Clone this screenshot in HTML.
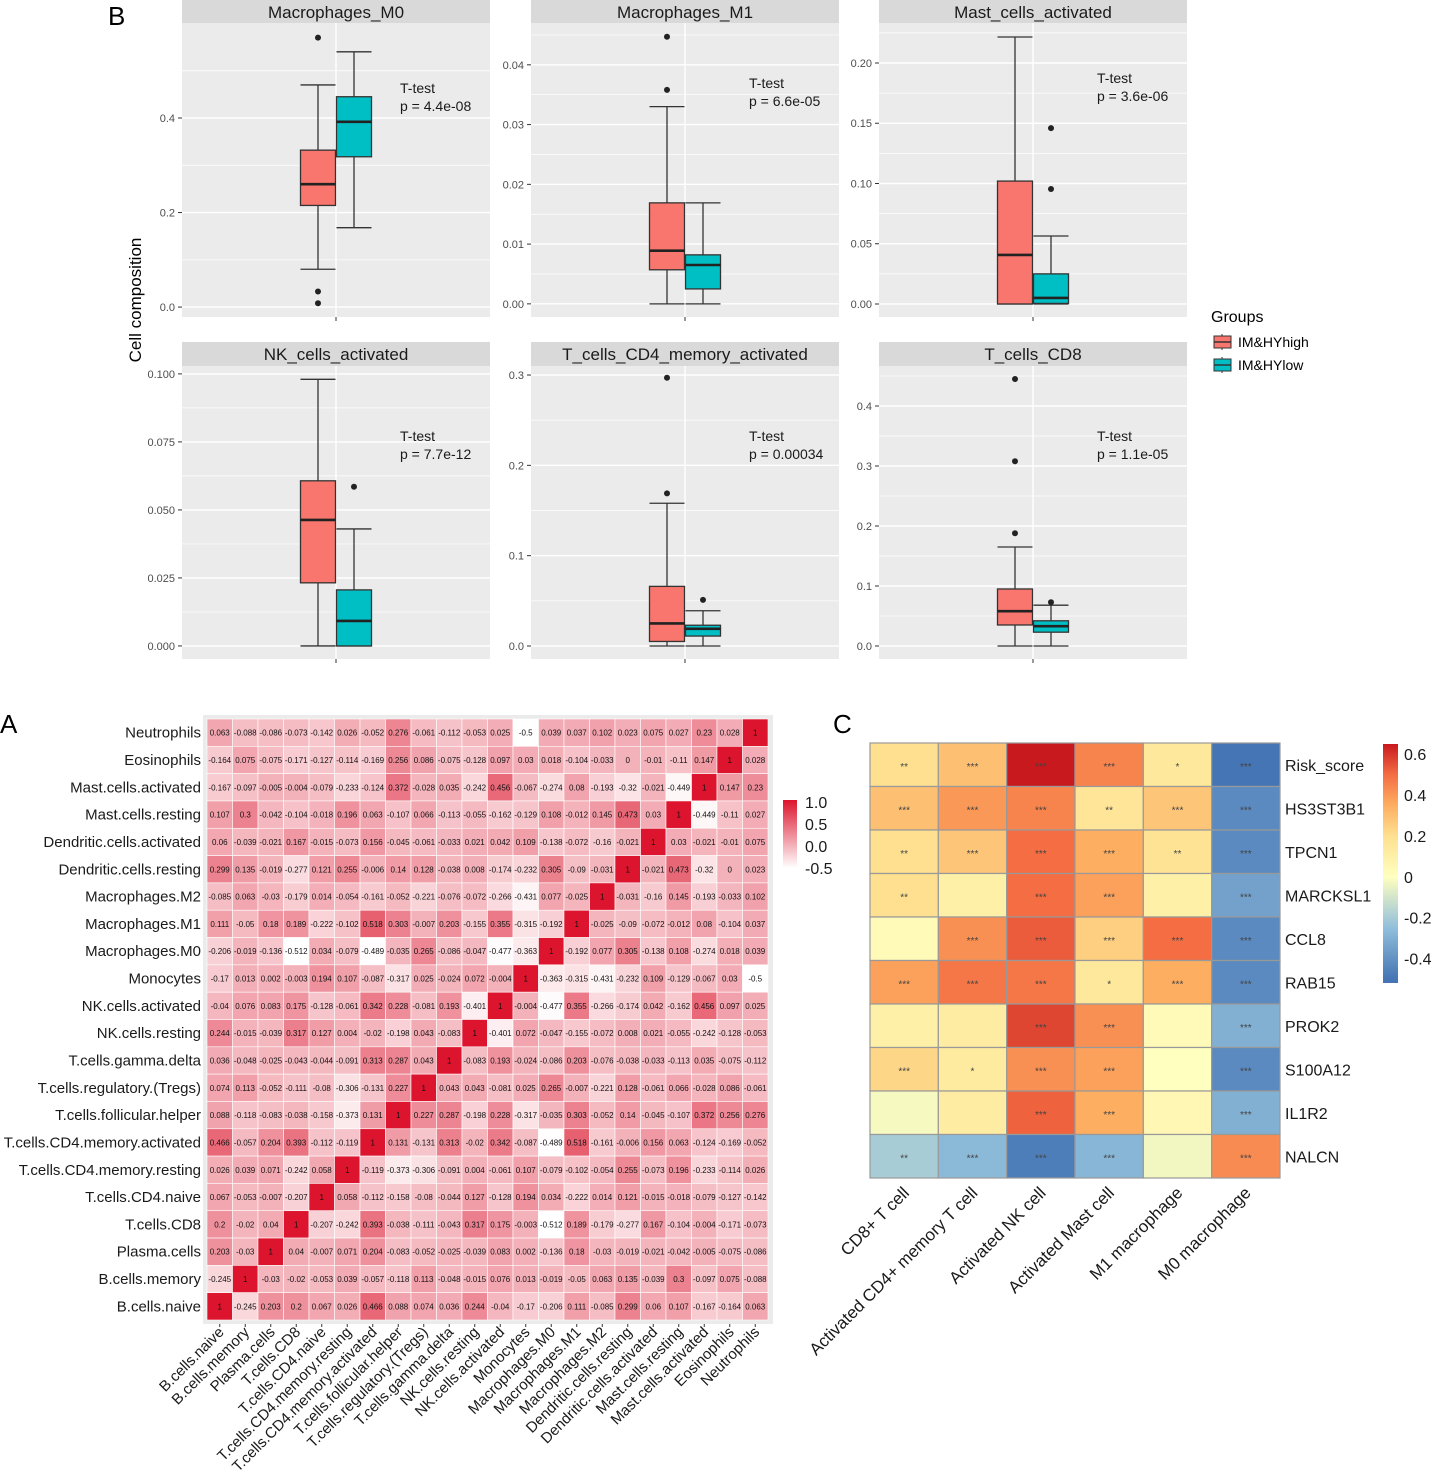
<!DOCTYPE html>
<html><head><meta charset="utf-8">
<style>
body{margin:0;background:#fff;}
svg{display:block;font-family:"Liberation Sans",Arial,sans-serif;}
</style></head>
<body>
<svg id="fig" width="1435" height="1475" viewBox="0 0 1435 1475" xmlns="http://www.w3.org/2000/svg">
<text x="108" y="25" font-size="26">B</text>
<text x="0" y="733" font-size="26">A</text>
<text x="833" y="733" font-size="26">C</text>
<text transform="translate(141,300) rotate(-90)" text-anchor="middle" font-size="17">Cell composition</text>
<g id="gB"></g>
<g>
<text x="1211" y="322" font-size="16">Groups</text>
<g>
<line x1="1222" y1="334" x2="1222" y2="350" stroke="#333"/><rect x="1214" y="336" width="17" height="12" fill="#f8766d" stroke="#333"/><line x1="1214" y1="342" x2="1231" y2="342" stroke="#333" stroke-width="1.5"/>
<text x="1238" y="347" font-size="14">IM&amp;HYhigh</text></g>
<g>
<line x1="1222" y1="357" x2="1222" y2="373" stroke="#333"/><rect x="1214" y="359" width="17" height="12" fill="#00bfc4" stroke="#333"/><line x1="1214" y1="365" x2="1231" y2="365" stroke="#333" stroke-width="1.5"/>
<text x="1238" y="370" font-size="14">IM&amp;HYlow</text></g>
</g>
<g id="gA"></g>
<g id="gC"></g>
</svg>
<script>
// ---------- Panel B data ----------
const boxTitles = ["Macrophages_M0","Macrophages_M1","Mast_cells_activated","NK_cells_activated","T_cells_CD4_memory_activated","T_cells_CD8"];
const pValues = ["p = 4.4e-08","p = 6.6e-05","p = 3.6e-06","p = 7.7e-12","p = 0.00034","p = 1.1e-05"];
// [lowWhisker, q1, median, q3, highWhisker]
const highStats = [[0.08,0.215,0.26,0.332,0.47],[0,0.0057,0.0089,0.0169,0.033],[0,0,0.0407,0.102,0.2216],[0,0.0232,0.0463,0.0607,0.098],[0,0.005,0.025,0.066,0.158],[0,0.035,0.058,0.095,0.165]];
const lowStats = [[0.168,0.318,0.392,0.445,0.54],[0,0.0025,0.0065,0.0082,0.0169],[0,0.0005,0.005,0.025,0.0564],[0,0,0.0092,0.0206,0.043],[0,0.011,0.019,0.023,0.039],[0,0.023,0.033,0.042,0.068]];
const highOutliers = [[0.57,0.033,0.008],[0.0358,0.0447],[],[],[0.169,0.297],[0.188,0.308,0.445]];
const lowOutliers = [[],[],[0.0954,0.146],[0.0585],[0.051],[0.073]];
const yTicks = [[0,0.2,0.4],[0,0.01,0.02,0.03,0.04],[0,0.05,0.1,0.15,0.2],[0,0.025,0.05,0.075,0.1],[0,0.1,0.2,0.3],[0,0.1,0.2,0.3,0.4]];
const yTickLabels = [["0.0","0.2","0.4"],["0.00","0.01","0.02","0.03","0.04"],["0.00","0.05","0.10","0.15","0.20"],["0.000","0.025","0.050","0.075","0.100"],["0.0","0.1","0.2","0.3"],["0.0","0.1","0.2","0.3","0.4"]];
const yDomains = [[-0.021,0.601],[-0.0022,0.047],[-0.0108,0.2332],[-0.0048,0.1029],[-0.0144,0.310],[-0.0217,0.4667]];

// ---------- Panel A data ----------
const cellTypes = ["B.cells.naive","B.cells.memory","Plasma.cells","T.cells.CD8","T.cells.CD4.naive","T.cells.CD4.memory.resting","T.cells.CD4.memory.activated","T.cells.follicular.helper","T.cells.regulatory.(Tregs)","T.cells.gamma.delta","NK.cells.resting","NK.cells.activated","Monocytes","Macrophages.M0","Macrophages.M1","Macrophages.M2","Dendritic.cells.resting","Dendritic.cells.activated","Mast.cells.resting","Mast.cells.activated","Eosinophils","Neutrophils"];
const lowerTri = [
[],
[-0.245],
[0.203,-0.03],
[0.2,-0.02,0.04],
[0.067,-0.053,-0.007,-0.207],
[0.026,0.039,0.071,-0.242,0.058],
[0.466,-0.057,0.204,0.393,-0.112,-0.119],
[0.088,-0.118,-0.083,-0.038,-0.158,-0.373,0.131],
[0.074,0.113,-0.052,-0.111,-0.08,-0.306,-0.131,0.227],
[0.036,-0.048,-0.025,-0.043,-0.044,-0.091,0.313,0.287,0.043],
[0.244,-0.015,-0.039,0.317,0.127,0.004,-0.02,-0.198,0.043,-0.083],
[-0.04,0.076,0.083,0.175,-0.128,-0.061,0.342,0.228,-0.081,0.193,-0.401],
[-0.17,0.013,0.002,-0.003,0.194,0.107,-0.087,-0.317,0.025,-0.024,0.072,-0.004],
[-0.206,-0.019,-0.136,-0.512,0.034,-0.079,-0.489,-0.035,0.265,-0.086,-0.047,-0.477,-0.363],
[0.111,-0.05,0.18,0.189,-0.222,-0.102,0.518,0.303,-0.007,0.203,-0.155,0.355,-0.315,-0.192],
[-0.085,0.063,-0.03,-0.179,0.014,-0.054,-0.161,-0.052,-0.221,-0.076,-0.072,-0.266,-0.431,0.077,-0.025],
[0.299,0.135,-0.019,-0.277,0.121,0.255,-0.006,0.14,0.128,-0.038,0.008,-0.174,-0.232,0.305,-0.09,-0.031],
[0.06,-0.039,-0.021,0.167,-0.015,-0.073,0.156,-0.045,-0.061,-0.033,0.021,0.042,0.109,-0.138,-0.072,-0.16,-0.021],
[0.107,0.3,-0.042,-0.104,-0.018,0.196,0.063,-0.107,0.066,-0.113,-0.055,-0.162,-0.129,0.108,-0.012,0.145,0.473,0.03],
[-0.167,-0.097,-0.005,-0.004,-0.079,-0.233,-0.124,0.372,-0.028,0.035,-0.242,0.456,-0.067,-0.274,0.08,-0.193,-0.32,-0.021,-0.449],
[-0.164,0.075,-0.075,-0.171,-0.127,-0.114,-0.169,0.256,0.086,-0.075,-0.128,0.097,0.03,0.018,-0.104,-0.033,0,-0.01,-0.11,0.147],
[0.063,-0.088,-0.086,-0.073,-0.142,0.026,-0.052,0.276,-0.061,-0.112,-0.053,0.025,-0.5,0.039,0.037,0.102,0.023,0.075,0.027,0.23,0.028]
];
const corrLegendTicks = [1.0,0.5,0.0,-0.5];
const corrLegendLabels = ["1.0","0.5","0.0","-0.5"];

// ---------- Panel C data ----------
const genes = ["Risk_score","HS3ST3B1","TPCN1","MARCKSL1","CCL8","RAB15","PROK2","S100A12","IL1R2","NALCN"];
const immuneCells = ["CD8+ T cell","Activated CD4+ memory T cell","Activated NK cell","Activated Mast cell","M1 macrophage","M0 macrophage"];
const geneCorr = [
[0.2,0.3,0.65,0.45,0.15,-0.5],
[0.3,0.4,0.45,0.17,0.28,-0.43],
[0.2,0.28,0.5,0.35,0.18,-0.43],
[0.2,0.1,0.5,0.38,0.1,-0.35],
[0.03,0.42,0.53,0.25,0.5,-0.43],
[0.38,0.48,0.48,0.15,0.35,-0.43],
[0.1,0.12,0.57,0.42,0.03,-0.3],
[0.23,0.13,0.42,0.38,0.0,-0.43],
[-0.02,0.12,0.52,0.35,0.05,-0.3],
[-0.2,-0.27,-0.47,-0.28,-0.03,0.43]
];
const geneStars = [
["**","***","***","***","*","***"],
["***","***","***","**","***","***"],
["**","***","***","***","**","***"],
["**","","***","***","","***"],
["","***","***","***","***","***"],
["***","***","***","*","***","***"],
["","","***","***","","***"],
["***","*","***","***","","***"],
["","","***","***","","***"],
["**","***","***","***","","***"]
];
const geneLegendTicks = [0.6,0.4,0.2,0,-0.2,-0.4];
const geneLegendLabels = ["0.6","0.4","0.2","0","-0.2","-0.4"];

const NS="http://www.w3.org/2000/svg";
function mk(parent,tag,attrs,txt){const e=document.createElementNS(NS,tag);for(const k in attrs)e.setAttribute(k,attrs[k]);if(txt!==undefined)e.textContent=txt;parent.appendChild(e);return e;}

// ---------- Draw Panel B ----------
(function(){
  const g=document.getElementById('gB');
  const lefts=[182,531,879], rowsY=[[0,23,317],[342,366,659]], W=308;
  boxTitles.forEach((title,i)=>{
    const col=i%3,row=Math.floor(i/3);
    const L=lefts[col],st=rowsY[row][0],T=rowsY[row][1],B=rowsY[row][2];
    const cx=L+W/2;
    const [d0,d1]=yDomains[i];
    const y=v=>B-(v-d0)/(d1-d0)*(B-T);
    const pg=mk(g,'g',{});
    
    
    mk(pg,'rect',{x:L,y:T,width:W,height:B-T,fill:'#ebebeb'});
    const strip=mk(pg,'rect',{x:L,y:st,width:W,height:T-st,fill:'#d9d9d9'});
    
    
    const stt=mk(pg,'text',{x:cx,y:st+18,'text-anchor':'middle','font-size':17,fill:'#1a1a1a'},title);
    
    
    const tk=yTicks[i];
    const step=tk[1]-tk[0];
    for(let m=tk[0]-step/2;m<=d1;m+=step){ if(m>=d0) mk(pg,'line',{x1:L,x2:L+W,y1:y(m),y2:y(m),stroke:'#fff','stroke-width':0.7});}
    tk.forEach((v,k)=>{
      mk(pg,'line',{x1:L,x2:L+W,y1:y(v),y2:y(v),stroke:'#fff','stroke-width':1.4});
      mk(pg,'line',{x1:L-4,x2:L,y1:y(v),y2:y(v),stroke:'#333','stroke-width':1});
      const tl=mk(pg,'text',{x:L-7,y:y(v)+4,'text-anchor':'end','font-size':11,fill:'#4d4d4d'},yTickLabels[i][k]);
      
      
    });
    mk(pg,'line',{x1:cx,x2:cx,y1:T,y2:B,stroke:'#fff','stroke-width':1.4});
    mk(pg,'line',{x1:cx,x2:cx,y1:B,y2:B+4,stroke:'#333'});
    const bw=35;
    [[highStats[i],highOutliers[i],cx-18,'#f8766d','high'],[lowStats[i],lowOutliers[i],cx+18,'#00bfc4','low']].forEach(([s,outs,bx,fill,nm])=>{
      const bg=mk(pg,'g',{});
      
      
      mk(bg,'line',{x1:bx,x2:bx,y1:y(s[0]),y2:y(s[4]),stroke:'#333','stroke-width':1.3});
      mk(bg,'line',{x1:bx-bw/2,x2:bx+bw/2,y1:y(s[0]),y2:y(s[0]),stroke:'#333','stroke-width':1.3});
      mk(bg,'line',{x1:bx-bw/2,x2:bx+bw/2,y1:y(s[4]),y2:y(s[4]),stroke:'#333','stroke-width':1.3});
      mk(bg,'rect',{x:bx-bw/2,y:y(s[3]),width:bw,height:Math.max(0.5,y(s[1])-y(s[3])),fill:fill,stroke:'#333','stroke-width':1.3});
      mk(bg,'line',{x1:bx-bw/2,x2:bx+bw/2,y1:y(s[2]),y2:y(s[2]),stroke:'#222','stroke-width':2.6});
      outs.forEach(o=>{const c=mk(bg,'circle',{cx:bx,cy:y(o),r:3,fill:'#222'});});
    });
    const tx=L+218;
    const yT=row===0?[93,88,83][col]:441;
    mk(pg,'text',{x:tx,y:yT,'font-size':14,fill:'#1a1a1a'},'T-test');
    const pt=mk(pg,'text',{x:tx,y:yT+18,'font-size':14,fill:'#1a1a1a'},pValues[i]);
    
    
  });
})();

// ---------- Draw Panel A ----------
(function(){
  const g=document.getElementById('gA');
  const n=cellTypes.length, X0=207, Y0=719, W=561, H=601, cw=W/n, ch=H/n;
  mk(g,'rect',{x:203,y:715,width:570,height:609,fill:'#ebebeb'});
  const val=(i,j)=>i===j?1:(i>j?lowerTri[i][j]:lowerTri[j][i]);
  const col=v=>{const t=Math.max(0,Math.min(1,(v+0.5)/1.5));return `rgb(${Math.round(255-35*t)},${Math.round(255-235*t)},${Math.round(255-210*t)})`;};
  for(let r=0;r<n;r++){
    const i=n-1-r;
    for(let j=0;j<n;j++){
      const v=val(i,j);
      const cell=mk(g,'rect',{x:X0+j*cw,y:Y0+r*ch,width:cw,height:ch,fill:col(v),stroke:'#fff','stroke-width':0.6});
      
      
      mk(g,'text',{x:X0+(j+0.5)*cw,y:Y0+(r+0.5)*ch+3,'text-anchor':'middle','font-size':8,fill:'#111'},String(v));
    }
    const rl=mk(g,'text',{x:201,y:Y0+(r+0.5)*ch+5,'text-anchor':'end','font-size':15,fill:'#1a1a1a'},cellTypes[i]);
    
    
  }
  for(let j=0;j<n;j++){
    const x=X0+(j+0.5)*cw;
    mk(g,'line',{x1:x,x2:x,y1:1324,y2:1327,stroke:'#333'});
    const cl=mk(g,'text',{transform:`translate(${x+5},1333) rotate(-45)`,'text-anchor':'end','font-size':15,fill:'#1a1a1a'},cellTypes[j]);
    
    
  }
  const lg=mk(g,'g',{});
  
  
  const defs=mk(lg,'defs',{});
  const gr=mk(defs,'linearGradient',{id:'gradA',x1:0,y1:1,x2:0,y2:0});
  mk(gr,'stop',{offset:0,'stop-color':col(-0.5)});mk(gr,'stop',{offset:1,'stop-color':col(1)});
  const ly=v=>802+(1-v)/1.5*66;
  mk(lg,'rect',{x:783,y:ly(1)-2,width:14,height:ly(-0.5)-ly(1)+2,fill:'url(#gradA)'});
  corrLegendTicks.forEach((v,k)=>mk(lg,'text',{x:805,y:ly(v)+6,'font-size':16,fill:'#1a1a1a'},corrLegendLabels[k]));
})();

// ---------- Draw Panel C ----------
(function(){
  const g=document.getElementById('gC');
  const X0=870,Y0=743,W=410,H=435,nr=genes.length,nc=immuneCells.length,cw=W/nc,ch=H/nr;
  const stops=[[-0.5,[69,117,180]],[-0.25,[145,191,219]],[0,[255,255,191]],[0.2,[254,224,144]],[0.35,[253,174,97]],[0.5,[244,109,67]],[0.65,[200,25,30]]];
  const col=v=>{v=Math.max(-0.5,Math.min(0.65,v));for(let k=0;k<stops.length-1;k++){const [a,ca]=stops[k],[b,cb]=stops[k+1];if(v<=b){const t=(v-a)/(b-a);return `rgb(${ca.map((c,m)=>Math.round(c+(cb[m]-c)*t)).join(',')})`;}}return 'rgb(200,25,30)';};
  for(let r=0;r<nr;r++){
    for(let c=0;c<nc;c++){
      const cell=mk(g,'rect',{x:X0+c*cw,y:Y0+r*ch,width:cw,height:ch,fill:col(geneCorr[r][c]),stroke:'#999','stroke-width':1.2});
      
      
      if(geneStars[r][c]) mk(g,'text',{x:X0+(c+0.5)*cw,y:Y0+(r+0.5)*ch+5,'text-anchor':'middle','font-size':10,fill:'#444'},geneStars[r][c]);
    }
    const gl=mk(g,'text',{x:1285,y:Y0+(r+0.5)*ch+6,'font-size':16,fill:'#1a1a1a'},genes[r]);
    
    
  }
  immuneCells.forEach((nm,c)=>{
    const x=X0+(c+0.5)*cw;
    const t=mk(g,'text',{transform:`translate(${x+6},1194) rotate(-45)`,'text-anchor':'end','font-size':17,fill:'#1a1a1a'},nm);
    
    
  });
  const lg=mk(g,'g',{});
  
  
  const defs=mk(lg,'defs',{});
  const gr=mk(defs,'linearGradient',{id:'gradC',x1:0,y1:1,x2:0,y2:0});
  stops.forEach(([v,cc])=>mk(gr,'stop',{offset:(v+0.52)/1.17,'stop-color':`rgb(${cc.join(',')})`}));
  const ly=v=>744+(0.65-v)/1.17*239;
  mk(lg,'rect',{x:1383,y:744,width:15,height:239,fill:'url(#gradC)'});
  geneLegendTicks.forEach((v,k)=>mk(lg,'text',{x:1404,y:ly(v)+6,'font-size':16,fill:'#1a1a1a'},geneLegendLabels[k]));
})();
</script>
</body></html>
